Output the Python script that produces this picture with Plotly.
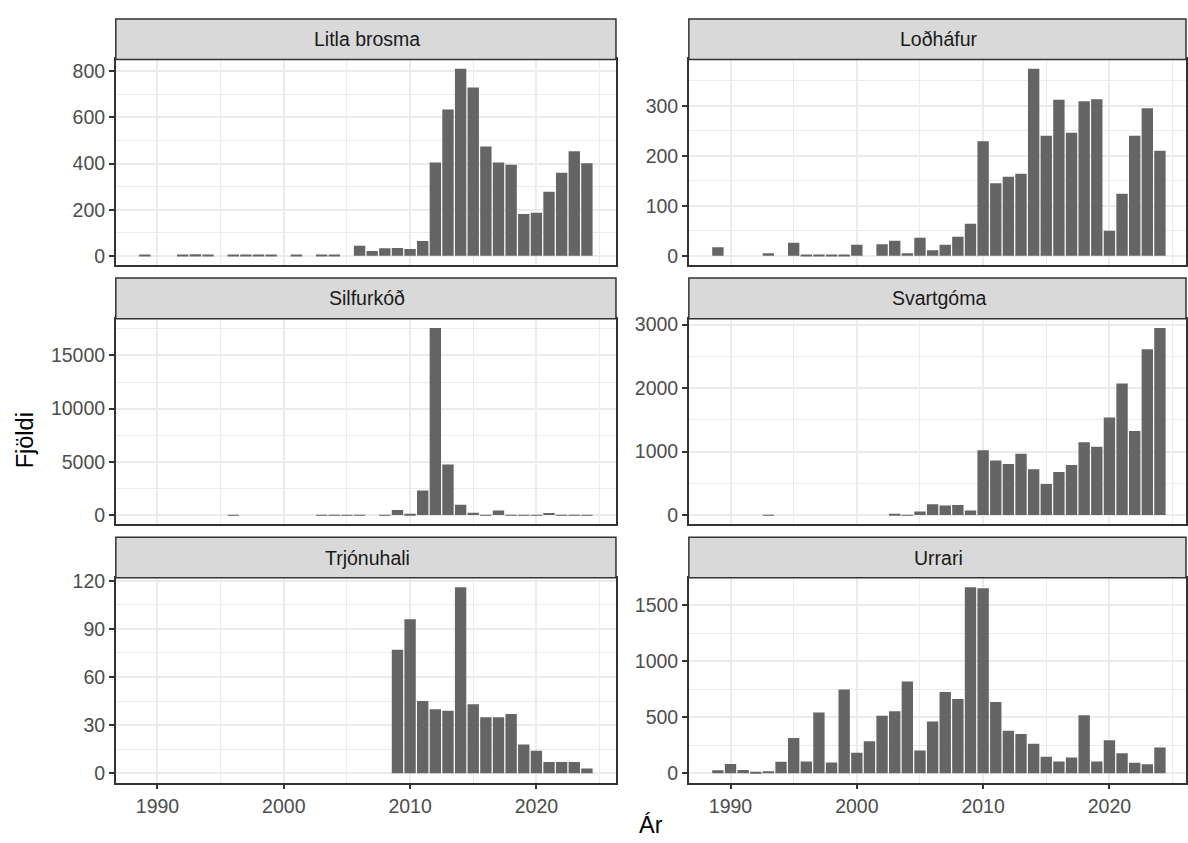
import plotly.graph_objects as go

# Yearly counts per species (None = no record that year)
years = list(range(1989, 2025))

species = ["Litla brosma", "Loðháfur", "Silfurkóð", "Svartgóma", "Trjónuhali", "Urrari"]

litla_brosma = [3, None, None, 2, 7, 2, None, 2, 6, 3, 5, None, 2, None, 2, 2, None,
                44, 21, 33, 34, 30, 64, 405, 634, 811, 730, 474, 405, 395, 182, 187,
                278, 360, 453, 402]
lodhafur = [17, None, None, None, 5, None, 26, 1.5, 1, 1.5, 1.5, 22, None, 23, 30, 5, 36,
            11, 22, 38, 64, 229, 145, 158, 164, 374, 240, 312, 246, 309, 313, 50,
            124, 240, 295, 210]
silfurkod = [None, None, None, None, None, None, None, 30, None, None, None, None, None, None,
             20, 20, 20, 20, None, 20, 470, 90, 2300, 17580, 4760, 965, 220, 15, 435,
             20, 20, 30, 190, 20, 20, 20]
svartgoma = [None, None, None, None, 5, None, None, None, None, None, None, None, None, None,
             15, 5, 57, 172, 151, 157, 73, 1022, 861, 803, 965, 720, 490, 678, 788,
             1148, 1075, 1539, 2071, 1325, 2614, 2947]
trjonuhali = [None, None, None, None, None, None, None, None, None, None, None, None, None,
              None, None, None, None, None, None, None,
              77, 96, 45, 40, 39, 116, 43, 35, 35, 37, 18, 14, 7, 7, 7, 3]
urrari = [27, 83, 29, 9, 18, 103, 315, 106, 542, 97, 749, 183, 286, 513, 554, 819, 203,
          463, 725, 663, 1662, 1653, 637, 380, 351, 265, 147, 106, 141, 519, 106, 295,
          180, 94, 80, 230]

series = [litla_brosma, lodhafur, silfurkod, svartgoma, trjonuhali, urrari]

y_major = [
    [0, 200, 400, 600, 800],
    [0, 100, 200, 300],
    [0, 5000, 10000, 15000],
    [0, 1000, 2000, 3000],
    [0, 30, 60, 90, 120],
    [0, 500, 1000, 1500],
]
y_minor = [
    [100, 300, 500, 700],
    [50, 150, 250, 350],
    [2500, 7500, 12500, 17500],
    [500, 1500, 2500],
    [15, 45, 75, 105],
    [250, 750, 1250],
]
x_major = [1990, 2000, 2010, 2020]
x_minor = [1995, 2005, 2015, 2025]

W, H = 1188, 843
BAR = "#656565"
GRID = "#EBEBEB"
EDGE = "#333333"
FONT = "Arial, Liberation Sans, sans-serif"
TICK_SIZE = 19.5
TITLE_SIZE = 23.5

# panel geometry in pixels
cols = [(116, 617), (690, 1188)]
rows = [(52, 260), (314, 522), (576, 783)]
strip_h = 41
px_per_year = 501 / (2026.3 - 1986.7)

fig = go.Figure()
layout = dict(
    width=W, height=H,
    margin=dict(l=0, r=0, t=0, b=0),
    paper_bgcolor="white", plot_bgcolor="white",
    showlegend=False, bargap=0.1,
    font=dict(family=FONT, size=TICK_SIZE, color="#4D4D4D"),
)
shapes, annotations = [], []

for i, (name, vals) in enumerate(zip(species, series)):
    r, c = divmod(i, 2)
    x0, x1 = cols[c]
    top, bot = rows[r]
    n = i + 1
    xa = "x" if n == 1 else f"x{n}"
    ya = "y" if n == 1 else f"y{n}"
    fig.add_trace(go.Bar(
        x=years, y=vals, xaxis=xa, yaxis=ya,
        marker=dict(color=BAR, line=dict(width=0)),
    ))
    vmax = max(v for v in vals if v is not None)
    xr_end = 1986.7 + (x1 - x0) / px_per_year
    bottom_row = r == 2
    layout["xaxis" if n == 1 else f"xaxis{n}"] = dict(
        domain=[x0 / W, x1 / W], anchor=ya, range=[1986.7, xr_end],
        tickvals=x_major, showticklabels=bottom_row,
        ticks="outside" if bottom_row else "", ticklen=5, tickwidth=1.5, tickcolor=EDGE,
        showgrid=True, gridcolor=GRID, gridwidth=2.2,
        minor=dict(tickvals=x_minor, showgrid=True, gridcolor=GRID, gridwidth=1.1, ticks=""),
        showline=True, mirror=True, linecolor=EDGE, linewidth=1.5,
        zeroline=False, tickfont=dict(size=TICK_SIZE, color="#4D4D4D"),
    )
    layout["yaxis" if n == 1 else f"yaxis{n}"] = dict(
        domain=[1 - bot / H, 1 - top / H], anchor=xa,
        range=[-0.05 * vmax, 1.05 * vmax],
        tickvals=y_major[i], tickformat="d",
        ticks="outside", ticklen=5, tickwidth=1.5, tickcolor=EDGE,
        showgrid=True, gridcolor=GRID, gridwidth=2.2,
        minor=dict(tickvals=y_minor[i], showgrid=True, gridcolor=GRID, gridwidth=1.1, ticks=""),
        showline=True, mirror=True, linecolor=EDGE, linewidth=1.5,
        zeroline=False, tickfont=dict(size=TICK_SIZE, color="#4D4D4D"),
    )
    # facet strip
    s_top = top - strip_h
    shapes.append(dict(
        type="rect", xref="paper", yref="paper",
        x0=x0 / W, x1=x1 / W, y0=1 - top / H, y1=1 - s_top / H,
        fillcolor="#D9D9D9", line=dict(color=EDGE, width=1.5), layer="above",
    ))
    annotations.append(dict(
        text=name, xref="paper", yref="paper",
        x=(x0 + min(x1 + 3, 1191)) / 2 / W, y=1 - (s_top + strip_h / 2) / H,
        showarrow=False, xanchor="center", yanchor="middle",
        font=dict(family=FONT, size=TICK_SIZE, color="#1A1A1A"),
    ))

annotations.append(dict(
    text="Fjöldi", xref="paper", yref="paper", x=25 / W, y=1 - 437 / H,
    showarrow=False, textangle=-90, xanchor="center", yanchor="middle",
    font=dict(family=FONT, size=TITLE_SIZE, color="black"),
))
annotations.append(dict(
    text="Ár", xref="paper", yref="paper", x=652 / W, y=1 - 826 / H,
    showarrow=False, xanchor="center", yanchor="middle",
    font=dict(family=FONT, size=TITLE_SIZE, color="black"),
))

layout["shapes"] = shapes
layout["annotations"] = annotations
fig.update_layout(**layout)
fig.write_html("out.html")
